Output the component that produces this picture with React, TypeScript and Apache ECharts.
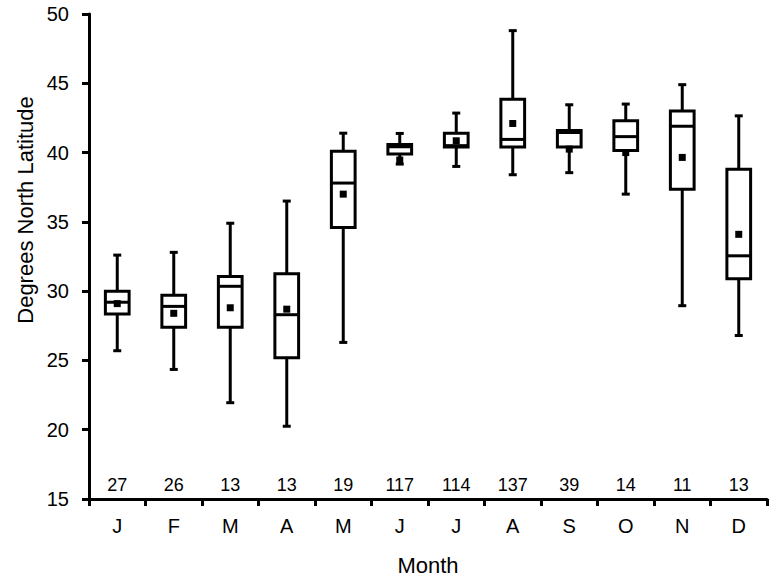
import React, { useEffect, useRef } from "react";
import * as echarts from "echarts";

const months = ["J", "F", "M", "A", "M", "J", "J", "A", "S", "O", "N", "D"];
const whiskerLow = [25.7, 24.35, 21.95, 20.25, 26.3, 39.17, 39.0, 38.4, 38.55, 37.0, 28.95, 26.8];
const q1 = [28.35, 27.4, 27.4, 25.2, 34.6, 39.9, 40.4, 40.4, 40.4, 40.15, 37.35, 30.9];
const median = [29.2, 28.9, 30.35, 28.3, 37.8, 40.42, 40.5, 40.95, 41.45, 41.15, 41.9, 32.55];
const q3 = [30.0, 29.7, 31.05, 31.25, 40.1, 40.59, 41.4, 43.85, 41.6, 42.3, 43.0, 38.8];
const whiskerHigh = [32.6, 32.8, 34.9, 36.5, 41.4, 41.38, 42.85, 48.8, 43.45, 43.5, 44.9, 42.65];
const means = [29.1, 28.4, 28.8, 28.7, 37.0, 39.46, 40.85, 42.1, 40.25, 40.0, 39.65, 34.1];
const counts = [27, 26, 13, 13, 19, 117, 114, 137, 39, 14, 11, 13];
const countY = 16;
const yTicks = { min: 15, max: 50, interval: 5 };
const yTitle = "Degrees North Latitude";

const FONT = "Liberation Sans, Arial, sans-serif";

export default function App() {
  const ref = useRef<HTMLDivElement>(null);
  useEffect(() => {
    if (!ref.current) return;
    const chart = echarts.init(ref.current, null, { renderer: "svg" });
    const boxData = months.map((_, i) => [
      i,
      whiskerLow[i],
      q1[i],
      median[i],
      q3[i],
      whiskerHigh[i],
      means[i],
      counts[i],
    ]);
    const lw = 3;
    chart.setOption({
      animation: false,
      backgroundColor: "#ffffff",
      grid: { left: 89, right: 8, top: 14, bottom: 82, containLabel: false },
      graphic: [
        {
          type: "text",
          x: 25,
          y: 210,
          rotation: Math.PI / 2,
          style: {
            text: yTitle,
            fill: "#000",
            fontSize: 22,
            fontFamily: FONT,
            align: "center",
            verticalAlign: "middle",
          },
        },
      ],
      xAxis: {
        type: "category",
        data: months,
        boundaryGap: true,
        name: "Month",
        nameLocation: "middle",
        nameGap: 55,
        nameTextStyle: { fontFamily: FONT, fontSize: 22, color: "#000" },
        axisLine: { lineStyle: { color: "#000", width: lw } },
        axisTick: { show: true, length: 7, lineStyle: { color: "#000", width: lw } },
        axisLabel: { fontFamily: FONT, fontSize: 20, color: "#000", margin: 17 },
        splitLine: { show: false },
      },
      yAxis: {
        type: "value",
        min: yTicks.min,
        max: yTicks.max,
        interval: yTicks.interval,
        axisLine: { show: true, lineStyle: { color: "#000", width: lw } },
        axisTick: { show: true, length: 7, lineStyle: { color: "#000", width: lw } },
        axisLabel: { fontFamily: FONT, fontSize: 20, color: "#000", margin: 20 },
        splitLine: { show: false },
      },
      series: [
        {
          type: "custom",
          data: boxData,
          encode: { x: 0, y: [1, 2, 3, 4, 5, 6] },
          renderItem: (params: any, api: any) => {
            const i = api.value(0);
            const band = api.size([1, 0])[0];
            const bw = band * 0.42;
            const x = api.coord([i, 0])[0];
            const yLow = api.coord([i, api.value(1)])[1];
            const yQ1 = api.coord([i, api.value(2)])[1];
            const yMed = api.coord([i, api.value(3)])[1];
            const yQ3 = api.coord([i, api.value(4)])[1];
            const yHigh = api.coord([i, api.value(5)])[1];
            const yMean = api.coord([i, api.value(6)])[1];
            const yCount = api.coord([i, countY])[1];
            const cap = 8;
            const ms = 7;
            const st = { stroke: "#000", lineWidth: lw, fill: "none" };
            return {
              type: "group",
              children: [
                { type: "line", shape: { x1: x, y1: yQ3, x2: x, y2: yHigh }, style: st },
                { type: "line", shape: { x1: x, y1: yQ1, x2: x, y2: yLow }, style: st },
                { type: "line", shape: { x1: x - cap / 2, y1: yHigh, x2: x + cap / 2, y2: yHigh }, style: st },
                { type: "line", shape: { x1: x - cap / 2, y1: yLow, x2: x + cap / 2, y2: yLow }, style: st },
                {
                  type: "rect",
                  shape: { x: x - bw / 2, y: yQ3, width: bw, height: yQ1 - yQ3 },
                  style: { stroke: "#000", lineWidth: lw, fill: "#fff" },
                },
                { type: "line", shape: { x1: x - bw / 2, y1: yMed, x2: x + bw / 2, y2: yMed }, style: st },
                {
                  type: "rect",
                  shape: { x: x - ms / 2, y: yMean - ms / 2, width: ms, height: ms },
                  style: { fill: "#000", stroke: "none" },
                },
                {
                  type: "text",
                  x: x,
                  y: yCount,
                  style: {
                    text: String(api.value(7)),
                    fill: "#000",
                    fontSize: 18,
                    fontFamily: FONT,
                    align: "center",
                    verticalAlign: "middle",
                  },
                },
              ],
            };
          },
          z: 3,
        },
      ],
    });
    return () => chart.dispose();
  }, []);
  return (
    <div
      ref={ref}
      style={{ position: "fixed", left: 0, top: 0, width: 775, height: 581, background: "#fff" }}
    />
  );
}
